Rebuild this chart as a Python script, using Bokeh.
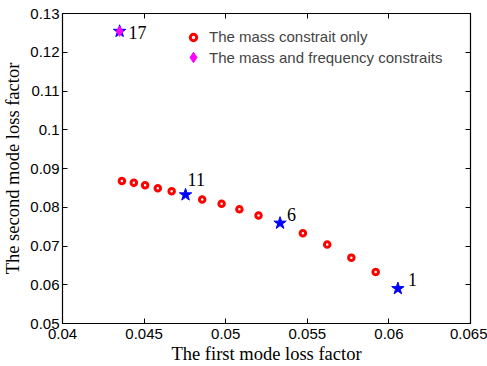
from bokeh.plotting import figure
from bokeh.models import (ColumnDataSource, LinearAxis, FixedTicker, CustomJSTickFormatter,
                          Legend, LegendItem, Range1d)
from bokeh.embed import file_html
from bokeh.resources import INLINE

# Pareto front, mass constraint only (points 1..16)
point_ids = [1, 2, 3, 4, 5, 6, 7, 8, 9, 10, 11, 12, 13, 14, 15, 16]
loss1_mass = [0.06055, 0.05919, 0.05770, 0.05622, 0.05473, 0.05333, 0.05201, 0.05084,
              0.04975, 0.04856, 0.04754, 0.04669, 0.04584, 0.04506, 0.04437, 0.04364]
loss2_mass = [0.0590, 0.0633, 0.0670, 0.0704, 0.0733, 0.0759, 0.0779, 0.0795,
              0.0809, 0.0820, 0.0832, 0.0841, 0.0849, 0.0857, 0.0863, 0.0868]
# mass and frequency constraints (point 17)
loss1_freq = [0.0435]
loss2_freq = [0.1254]
# highlighted designs (stars)
star_ids = [1, 6, 11, 17]
star_labels = ["1", "6", "11", "17"]

x_ticks = [0.04, 0.045, 0.05, 0.055, 0.06, 0.065]
y_ticks = [0.05, 0.06, 0.07, 0.08, 0.09, 0.1, 0.11, 0.12, 0.13]

# label pixel offsets (styling; negative dy = up)
label_dx = [10, 7, 2, 9]
label_dy = [-9, -9, -15, 1]

all_x = loss1_mass + loss1_freq
all_y = loss2_mass + loss2_freq
all_ids = point_ids + [17]

red_x = [x for i, x in zip(point_ids, loss1_mass) if i not in star_ids]
red_y = [y for i, y in zip(point_ids, loss2_mass) if i not in star_ids]
sx = [all_x[all_ids.index(i)] for i in star_ids]
sy = [all_y[all_ids.index(i)] for i in star_ids]

p = figure(width=487, height=366, output_backend="svg", toolbar_location=None,
           x_range=Range1d(0.04, 0.065), y_range=Range1d(0.05, 0.13),
           min_border_left=59, min_border_right=17, min_border_top=13, min_border_bottom=43,
           background_fill_color="white", border_fill_color="white")
p.xgrid.visible = False
p.ygrid.visible = False
p.outline_line_color = "black"
p.outline_line_width = 1.2

fmt = CustomJSTickFormatter(code="return parseFloat(tick.toFixed(4)).toString();")
blank = CustomJSTickFormatter(code="return '';")

for ax, ticks in ((p.xaxis[0], x_ticks), (p.yaxis[0], y_ticks)):
    ax.ticker = FixedTicker(ticks=ticks)
    ax.formatter = fmt
    ax.major_tick_in = 5
    ax.major_tick_out = 0
    ax.minor_tick_in = 0
    ax.minor_tick_out = 0
    ax.axis_line_color = "black"
    ax.major_label_text_font = "Liberation Sans"
    ax.major_label_text_font_size = "15px"
    ax.major_label_text_color = "black"
    ax.axis_label_text_font = "Liberation Serif"
    ax.axis_label_text_font_size = "18.5px"
    ax.axis_label_text_font_style = "normal"
    ax.axis_label_text_color = "black"

p.xaxis[0].axis_label = "The first mode loss factor"
p.yaxis[0].axis_label = "The second mode loss factor"
p.xaxis[0].major_label_standoff = 5
p.xaxis[0].axis_label_standoff = 2
p.yaxis[0].major_label_standoff = 3
p.yaxis[0].axis_label_standoff = 4

for loc, ticks in (("right", y_ticks), ("above", x_ticks)):
    ax = LinearAxis(ticker=FixedTicker(ticks=ticks), formatter=blank,
                    major_tick_in=5, major_tick_out=0, minor_tick_in=0, minor_tick_out=0,
                    major_label_standoff=0, axis_line_color="black",
                    major_label_text_font_size="1px")
    p.add_layout(ax, loc)

red = p.scatter(red_x, red_y, marker="circle", size=5.5, line_color="red", line_width=3,
                fill_color="white")
p.scatter(sx, sy, marker="star", size=13, fill_color="blue", line_color="blue")
mag = p.scatter(loss1_freq, loss2_freq, marker="diamond", size=10, fill_color="magenta",
                line_color="magenta")

lab_src = ColumnDataSource(dict(x=sx, y=sy, t=star_labels, dx=label_dx, dy=label_dy))
p.text(x="x", y="y", text="t", x_offset="dx", y_offset="dy", text_baseline="alphabetic",
       source=lab_src, text_font={"value": "Liberation Serif"}, text_font_size="18px",
       text_color="black")

common = dict(padding=0, spacing=0, label_text_font="Liberation Sans",
              label_text_font_size="15px", border_line_color=None,
              background_fill_alpha=0, margin=0)
legend1 = Legend(items=[LegendItem(label="The mass constrait only", renderers=[red])],
                 location=(123, 278), glyph_width=16, glyph_height=16, label_height=16,
                 label_standoff=8, **common)
legend2 = Legend(items=[LegendItem(label="The mass and frequency constraits", renderers=[mag])],
                 location=(118, 253), glyph_width=26, glyph_height=26, label_height=26,
                 label_standoff=3, **common)
p.add_layout(legend1, "center")
p.add_layout(legend2, "center")

open("out.html", "w").write(file_html(p, INLINE))
